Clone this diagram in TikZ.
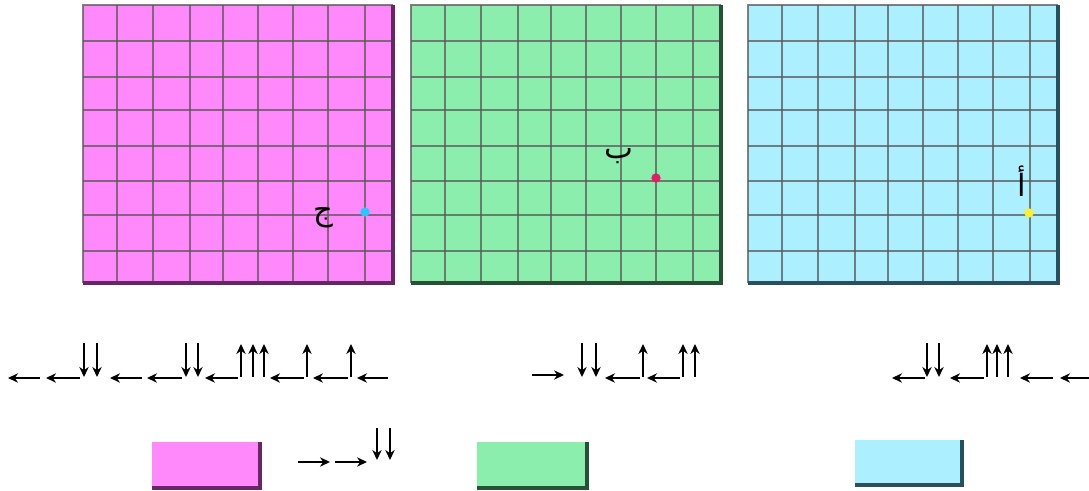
\documentclass[tikz,border=0pt]{standalone}
\usepackage{fontspec}
\newfontfamily\arabicfont[Script=Arabic]{DejaVu Sans}
\TeXXeTstate=1
\usetikzlibrary{arrows.meta}
\definecolor{pinkc}{RGB}{255,136,250}
\definecolor{greenc}{RGB}{140,238,172}
\definecolor{bluec}{RGB}{172,240,255}
\definecolor{pinkd}{RGB}{100,40,100}
\definecolor{greend}{RGB}{40,80,55}
\definecolor{blued}{RGB}{40,80,95}
\definecolor{dotcyan}{RGB}{40,200,255}
\definecolor{dotred}{RGB}{225,30,100}
\definecolor{dotyellow}{RGB}{255,238,40}
\newcommand\gridbox[3]{%
  \fill[#2] (#1,5) rectangle (#1+310,283);
  \foreach \v in {34,70,107,140,175,210,245,282}
    \draw[gridline] (#1+\v,5) -- (#1+\v,283);
  \foreach \h in {41,77,110,146,181,215,251}
    \draw[gridline] (#1,\h) -- (#1+310,\h);
  \draw[gridline] (#1,283) -- (#1,5) -- (#1+310,5);
  \draw[edge=#3] (#1+310,5) -- (#1+310,283) -- (#1,283);
}
\begin{document}
\begin{tikzpicture}[x=0.75pt,y=-0.75pt,
  gridline/.style={line width=2pt,draw=black!65,draw opacity=0.75},
  edge/.style={line width=2.6pt,draw=#1},
  arr/.style={line width=2.1pt,-{Stealth[length=7.5pt,width=7pt]}},
  dot/.style={circle,inner sep=0pt,minimum size=7pt,fill=#1},
  lbl/.style={font=\fontsize{23}{26}\arabicfont,inner sep=0pt}]
\useasboundingbox[fill=white] (0,0) rectangle (1089,491);
% grids
\gridbox{83}{pinkc}{pinkd}
\gridbox{411}{greenc}{greend}
\gridbox{748}{bluec}{blued}
% dots and labels
\node[dot=dotcyan] (dj) at (365,212) {};
\node[lbl] (lj) at (323,218) {\beginR ج\endR};
\node[dot=dotred] (db) at (656,178) {};
\node[lbl] (lb) at (619,156) {\beginR ب\endR};
\node[dot=dotyellow] (da) at (1029,213) {};
\node[lbl] (la) at (1022,181) {\beginR أ\endR};
% row of arrows, left
\foreach \a/\b in {40/8,80/46,142/110,182/147,238/205,304/270,348/313,388/357}
  \draw[arr] (\a,378) -- (\b,378);
\foreach \x in {84,97,186,198}
  \draw[arr] (\x,343) -- (\x,377);
\foreach \x in {241,253,264,307,351}
  \draw[arr] (\x,377) -- (\x,344);
% row of arrows, middle
\draw[arr] (532,375) -- (564,375);
\foreach \a/\b in {640/605,680/647}
  \draw[arr] (\a,378) -- (\b,378);
\foreach \x in {582,596}
  \draw[arr] (\x,343) -- (\x,377);
\foreach \x in {643,683,695}
  \draw[arr] (\x,377) -- (\x,344);
% row of arrows, right
\foreach \a/\b in {925/892,984/950,1053/1020,1094/1060}
  \draw[arr] (\a,378) -- (\b,378);
\foreach \x in {927,939}
  \draw[arr] (\x,343) -- (\x,377);
\foreach \x in {987,997,1008}
  \draw[arr] (\x,377) -- (\x,344);
% bottom swatches
\fill[pinkc] (152,442) rectangle (260,488);
\draw[edge=pinkd] (260,442) -- (260,488) -- (152,488);
\fill[greenc] (477,442) rectangle (587,488);
\draw[edge=greend] (587,442) -- (587,488) -- (477,488);
\fill[bluec] (855,440) rectangle (962,485);
\draw[edge=blued] (962,440) -- (962,485) -- (855,485);
% bottom arrows
\draw[arr] (298,462) -- (330,462);
\draw[arr] (335,462) -- (367,462);
\foreach \x in {377,390}
  \draw[arr] (\x,428) -- (\x,460);
\end{tikzpicture}
\end{document}
